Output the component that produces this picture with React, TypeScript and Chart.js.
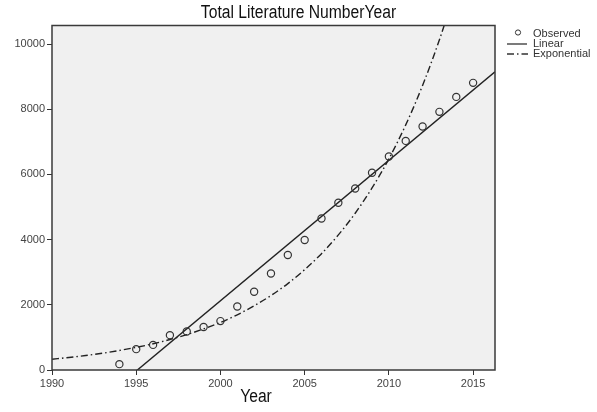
import { useEffect, useRef } from "react";
import { Chart, registerables } from "chart.js";

Chart.register(...registerables);

const observedYears = [1994, 1995, 1996, 1997, 1998, 1999, 2000, 2001, 2002, 2003, 2004, 2005, 2006, 2007, 2008, 2009, 2010, 2011, 2012, 2013, 2014, 2015];
const observedValues = [180, 640, 770, 1070, 1180, 1320, 1500, 1950, 2400, 2960, 3530, 3990, 4650, 5130, 5570, 6050, 6550, 7030, 7470, 7920, 8380, 8810];

const linearYears = [1990, 2016.3];
const linearValues = [-2185, 9150];

const expYears = [1990, 1991, 1992, 1993, 1994, 1995, 1996, 1997, 1998, 1999, 2000, 2001, 2002, 2003, 2004, 2005, 2006, 2007, 2008, 2009, 2010, 2011, 2012, 2013, 2013.5];
const expValues = [330, 385, 445, 515, 600, 695, 805, 935, 1085, 1260, 1460, 1695, 1970, 2285, 2650, 3080, 3570, 4145, 4810, 5585, 6480, 7520, 8730, 10130, 10920];

const xTicks = [1990, 1995, 2000, 2005, 2010, 2015];
const yTicks = [0, 2000, 4000, 6000, 8000, 10000];

const titleText = "Total Literature NumberYear";
const xAxisTitle = "Year";
const legendLabels = ["Observed", "Linear", "Exponential"];

const X_MIN = 1990;
const X_MAX = 2016.3;
const Y_MIN = 0;
const Y_MAX = 10570;

const EXP_DASH = [7, 3, 1.5, 3];
const TEXT_FONT = "'Liberation Sans', Arial, sans-serif";

const zip = (xs: number[], ys: number[]) => xs.map((x, i) => ({ x, y: ys[i] }));

// draw condensed text (narrow look of the original)
const drawNarrow = (ctx: CanvasRenderingContext2D, text: string, cx: number, cy: number) => {
  ctx.save();
  ctx.translate(cx, cy);
  ctx.scale(0.87, 1);
  ctx.font = `18px ${TEXT_FONT}`;
  ctx.textAlign = "center";
  ctx.textBaseline = "middle";
  ctx.fillText(text, 0, 0);
  ctx.restore();
};

const decorPlugin = {
  id: "decor",
  beforeDraw(chart: any) {
    const { ctx, chartArea: a, width, height } = chart;
    ctx.save();
    ctx.fillStyle = "#ffffff";
    ctx.fillRect(0, 0, width, height);
    ctx.fillStyle = "#f0f0f0";
    ctx.fillRect(a.left, a.top, a.right - a.left, a.bottom - a.top);
    ctx.restore();
  },
  afterDraw(chart: any) {
    const { ctx, chartArea: a, width } = chart;
    ctx.save();
    // plot frame
    ctx.strokeStyle = "#3a3a3a";
    ctx.lineWidth = 1.5;
    ctx.strokeRect(a.left, a.top, a.right - a.left, a.bottom - a.top);

    // title and x axis title
    ctx.fillStyle = "#111";
    drawNarrow(ctx, titleText, width / 2, 13.5);
    drawNarrow(ctx, xAxisTitle, a.left + 204, 397);

    // legend
    ctx.font = `11px ${TEXT_FONT}`;
    ctx.textAlign = "left";
    ctx.textBaseline = "middle";
    ctx.fillStyle = "#333";
    const lx = 507;
    const tx = 533;
    const rows = [33.5, 43.5, 53.5];
    ctx.strokeStyle = "#333";
    ctx.lineWidth = 1;
    ctx.beginPath();
    ctx.arc(518, rows[0] - 1, 2.6, 0, Math.PI * 2);
    ctx.stroke();
    ctx.lineWidth = 1.3;
    ctx.beginPath();
    ctx.moveTo(lx, rows[1] + 0.5);
    ctx.lineTo(lx + 20, rows[1] + 0.5);
    ctx.stroke();
    ctx.setLineDash(EXP_DASH);
    ctx.beginPath();
    ctx.moveTo(lx, rows[2] + 0.5);
    ctx.lineTo(lx + 21, rows[2] + 0.5);
    ctx.stroke();
    ctx.setLineDash([]);
    legendLabels.forEach((t, i) => ctx.fillText(t, tx, rows[i]));
    ctx.restore();
  },
};

export default function App() {
  const ref = useRef<HTMLCanvasElement | null>(null);

  useEffect(() => {
    document.body.style.margin = "0";
    if (!ref.current) return;
    const chart = new Chart(ref.current, {
      type: "scatter",
      data: {
        datasets: [
          {
            label: legendLabels[0],
            data: zip(observedYears, observedValues),
            showLine: false,
            pointRadius: 3.6,
            pointBorderWidth: 1.2,
            pointBorderColor: "#333",
            pointBackgroundColor: "rgba(0,0,0,0)",
            pointHoverRadius: 3.6,
            clip: false,
          },
          {
            label: legendLabels[1],
            data: zip(linearYears, linearValues),
            showLine: true,
            pointRadius: 0,
            borderColor: "#222",
            borderWidth: 1.4,
          },
          {
            label: legendLabels[2],
            data: zip(expYears, expValues),
            showLine: true,
            pointRadius: 0,
            borderColor: "#222",
            borderWidth: 1.4,
            borderDash: EXP_DASH,
            cubicInterpolationMode: "monotone",
          },
        ],
      },
      options: {
        animation: false,
        responsive: false,
        events: [],
        layout: { padding: { top: 25.5, right: 102, left: 0, bottom: 0 } },
        plugins: {
          legend: { display: false },
          title: { display: false },
          tooltip: { enabled: false },
        },
        scales: {
          x: {
            type: "linear",
            min: X_MIN,
            max: X_MAX,
            afterBuildTicks: (s: any) => {
              s.ticks = xTicks.map((v) => ({ value: v }));
            },
            afterFit: (s: any) => {
              s.height = 42;
            },
            border: { display: false },
            grid: { display: true, drawOnChartArea: false, drawTicks: true, tickLength: 5, color: "#333", lineWidth: 1 },
            ticks: {
              autoSkip: false,
              maxRotation: 0,
              padding: 2,
              color: "#444",
              font: { size: 11, family: TEXT_FONT },
              callback: (v: any) => String(v),
            },
          },
          y: {
            type: "linear",
            min: Y_MIN,
            max: Y_MAX,
            afterBuildTicks: (s: any) => {
              s.ticks = yTicks.map((v) => ({ value: v }));
            },
            afterFit: (s: any) => {
              s.width = 52;
            },
            border: { display: false },
            grid: { display: true, drawOnChartArea: false, drawTicks: true, tickLength: 5, color: "#333", lineWidth: 1 },
            ticks: {
              autoSkip: false,
              padding: 2,
              color: "#444",
              font: { size: 11, family: TEXT_FONT },
              callback: (v: any) => String(v),
            },
          },
        },
      },
      plugins: [decorPlugin],
    });
    return () => chart.destroy();
  }, []);

  return <canvas ref={ref} width={597} height={412} style={{ display: "block", width: 597, height: 412 }} />;
}
